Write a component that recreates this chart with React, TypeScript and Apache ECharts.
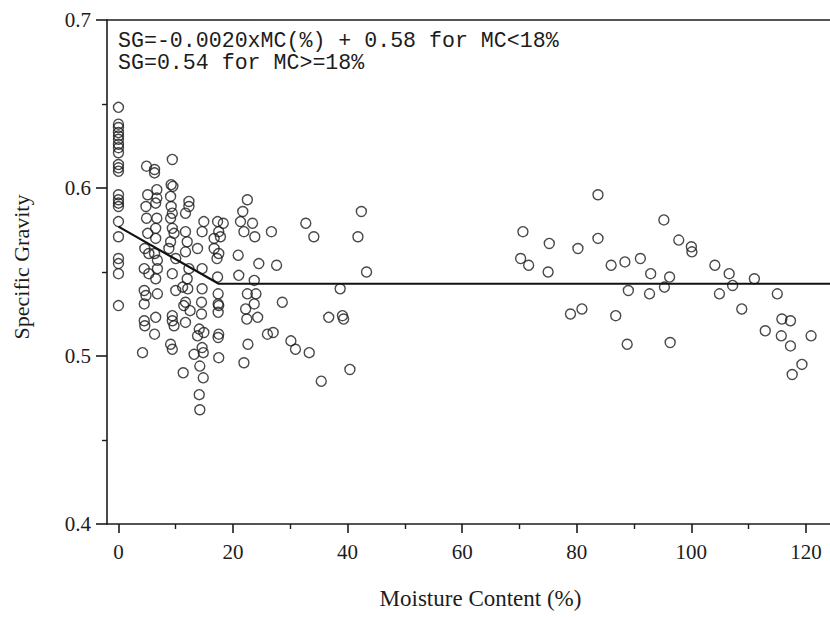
import React, { useEffect, useRef } from "react";
import * as echarts from "echarts";

// Axis ticks
const xTickValues = [0, 20, 40, 60, 80, 100, 120];
const xMinorTickValues = [10, 30, 50, 70, 90, 110];
const yTickValues = [0.4, 0.5, 0.6, 0.7];
const yMinorTickValues = [0.45, 0.55, 0.65];

// Observations: [moisture content %, specific gravity]
const greenMC0 = [
  [0, 0.648], [0, 0.638], [0, 0.636], [0, 0.633], [0, 0.631], [0, 0.629], [0, 0.626], [0, 0.624],
  [0, 0.621], [0, 0.614], [0, 0.612], [0, 0.61], [0, 0.596], [0, 0.593], [0, 0.591], [0, 0.589],
  [0, 0.58], [0, 0.571], [0, 0.558], [0, 0.555], [0, 0.549], [0, 0.53],
];
const mc4to7 = [
  [4.9, 0.613], [6.3, 0.611], [6.3, 0.609], [5.1, 0.596], [6.7, 0.599], [6.7, 0.594], [4.8, 0.589],
  [6.5, 0.591], [4.9, 0.582], [6.7, 0.582], [6.5, 0.576], [5.1, 0.573], [6.5, 0.57], [4.6, 0.564],
  [6.3, 0.561], [5.3, 0.561], [6.8, 0.557], [4.5, 0.552], [5.3, 0.549], [6.8, 0.552], [6.5, 0.546],
  [4.5, 0.539], [4.8, 0.536], [6.8, 0.537], [4.5, 0.531], [6.5, 0.523], [4.5, 0.521], [4.6, 0.518],
  [6.3, 0.513], [4.2, 0.502],
];
const mc8to10 = [
  [9.4, 0.617], [9.2, 0.602], [9.5, 0.601], [9.1, 0.595], [9.2, 0.589], [9.4, 0.585], [9.1, 0.582],
  [9.4, 0.576], [9.7, 0.573], [9.1, 0.568], [8.8, 0.564], [10.0, 0.558], [9.4, 0.549], [10.0, 0.539],
  [9.4, 0.524], [9.4, 0.521], [9.7, 0.518], [9.1, 0.507], [9.4, 0.504],
];
const mc11to13 = [
  [12.3, 0.592], [12.3, 0.589], [11.7, 0.585], [11.7, 0.574], [12.0, 0.568], [11.7, 0.562],
  [12.3, 0.552], [12.0, 0.546], [11.2, 0.541], [12.1, 0.54], [11.7, 0.532], [11.4, 0.53],
  [12.5, 0.527], [11.7, 0.52], [11.3, 0.49], [13.2, 0.501],
];
const mc14to15 = [
  [14.9, 0.58], [14.6, 0.574], [13.8, 0.564], [14.6, 0.552], [14.6, 0.54], [14.5, 0.532],
  [14.5, 0.525], [14.1, 0.516], [13.8, 0.512], [14.9, 0.514], [14.6, 0.505], [14.8, 0.502],
  [14.2, 0.494], [14.8, 0.487], [14.1, 0.477], [14.2, 0.468],
];
const mc16to18 = [
  [17.3, 0.58], [18.3, 0.579], [17.5, 0.574], [17.8, 0.571], [16.7, 0.57], [16.7, 0.564],
  [17.5, 0.561], [17.2, 0.558], [17.3, 0.547], [17.4, 0.537], [17.4, 0.531], [17.5, 0.53],
  [17.4, 0.526], [17.5, 0.513], [17.4, 0.511], [17.5, 0.499],
];
const mc20to25 = [
  [22.5, 0.593], [21.7, 0.586], [21.3, 0.58], [21.9, 0.574], [23.4, 0.579], [23.8, 0.571],
  [20.9, 0.56], [24.5, 0.555], [21.0, 0.548], [23.7, 0.545], [22.5, 0.537], [24.0, 0.537],
  [23.7, 0.531], [22.2, 0.528], [22.4, 0.522], [24.3, 0.523], [22.6, 0.507], [21.9, 0.496],
];
const mc25to44 = [
  [26.7, 0.574], [27.6, 0.554], [28.6, 0.532], [26.0, 0.513], [27.0, 0.514], [30.1, 0.509],
  [30.9, 0.504], [33.3, 0.502], [32.7, 0.579], [34.1, 0.571], [35.4, 0.485], [36.7, 0.523],
  [38.7, 0.54], [39.1, 0.524], [39.3, 0.522], [40.4, 0.492], [42.4, 0.586], [41.8, 0.571],
  [43.3, 0.55],
];
const mc70to121 = [
  [70.2, 0.558], [70.6, 0.574], [71.6, 0.554], [75.0, 0.55], [75.2, 0.567], [78.9, 0.525],
  [80.9, 0.528], [80.2, 0.564], [83.7, 0.596], [83.7, 0.57], [86.0, 0.554], [86.8, 0.524],
  [88.4, 0.556], [89.0, 0.539], [88.8, 0.507], [91.1, 0.558], [92.9, 0.549], [92.7, 0.537],
  [95.2, 0.581], [95.3, 0.541], [96.2, 0.547], [96.3, 0.508], [97.8, 0.569], [100.0, 0.565],
  [100.1, 0.562], [104.1, 0.554], [104.9, 0.537], [106.6, 0.549], [107.2, 0.542], [108.8, 0.528],
  [111.0, 0.546], [112.9, 0.515], [115.0, 0.537], [115.8, 0.522], [117.3, 0.521], [115.7, 0.512],
  [117.3, 0.506], [120.9, 0.512], [119.3, 0.495], [117.6, 0.489],
];

// Piecewise fit: SG = -0.0020 x MC + 0.58 (MC < 18), SG = 0.54 (MC >= 18)
const fitMC = [0, 17.5, 124.2];
const fitSG = [0.577, 0.543, 0.543];

const equationLines = [
  "SG=-0.0020xMC(%) + 0.58 for MC<18%",
  "SG=0.54 for MC>=18%",
];

const allPoints = [
  ...greenMC0, ...mc4to7, ...mc8to10, ...mc11to13, ...mc14to15,
  ...mc16to18, ...mc20to25, ...mc25to44, ...mc70to121,
];

const INK = "#1c1c1c";
const SERIF = "'Liberation Serif', 'Times New Roman', serif";
const MONO = "'Liberation Mono', 'Courier New', monospace";

export default function App() {
  const ref = useRef<HTMLDivElement>(null);
  useEffect(() => {
    if (!ref.current) return;
    const chart = echarts.init(ref.current, null, { renderer: "svg" });
    const xMin = -2;
    const xMax = 124.2;
    chart.setOption({
      animation: false,
      backgroundColor: "#ffffff",
      grid: { left: 107, top: 20, width: 723, height: 504, containLabel: false },
      xAxis: [
        {
          type: "value",
          min: xMin,
          max: xMax,
          position: "bottom",
          name: "Moisture Content (%)",
          nameLocation: "middle",
          nameGap: 63,
          nameTextStyle: { fontFamily: SERIF, fontSize: 23, color: INK, padding: [0, 0, 0, 24] },
          axisLine: { onZero: false, lineStyle: { color: INK, width: 1.6 } },
          axisTick: { show: true, customValues: xTickValues, length: 9, lineStyle: { color: INK, width: 1.6 } },
          axisLabel: {
            customValues: xTickValues,
            margin: 17,
            fontFamily: SERIF,
            fontSize: 21,
            color: INK,
          },
          splitLine: { show: false },
        },
        {
          type: "value",
          min: xMin,
          max: xMax,
          position: "bottom",
          axisLine: { show: false, onZero: false },
          axisTick: { show: true, customValues: xMinorTickValues, length: 5, lineStyle: { color: INK, width: 1.4 } },
          axisLabel: { show: false },
          splitLine: { show: false },
        },
        {
          type: "value",
          min: xMin,
          max: xMax,
          position: "top",
          axisLine: { show: true, onZero: false, lineStyle: { color: INK, width: 1.6 } },
          axisTick: { show: false },
          axisLabel: { show: false },
          splitLine: { show: false },
        },
      ],
      yAxis: [
        {
          type: "value",
          min: 0.4,
          max: 0.7,
          position: "left",
          name: "Specific Gravity",
          nameLocation: "middle",
          nameGap: 75,
          nameTextStyle: { fontFamily: SERIF, fontSize: 22, color: INK, padding: [0, 0, 0, 10] },
          axisLine: { show: true, onZero: false, lineStyle: { color: INK, width: 1.6 } },
          axisTick: { show: true, customValues: yTickValues, length: 11, lineStyle: { color: INK, width: 1.6 } },
          axisLabel: {
            customValues: yTickValues,
            margin: 16,
            fontFamily: SERIF,
            fontSize: 21,
            color: INK,
            formatter: (v: number) => v.toFixed(1),
          },
          splitLine: { show: false },
        },
        {
          type: "value",
          min: 0.4,
          max: 0.7,
          position: "left",
          axisLine: { show: false, onZero: false },
          axisTick: { show: true, customValues: yMinorTickValues, length: 5, lineStyle: { color: INK, width: 1.4 } },
          axisLabel: { show: false },
          splitLine: { show: false },
        },
      ],
      series: [
        {
          type: "scatter",
          xAxisIndex: 0,
          yAxisIndex: 0,
          data: allPoints,
          symbol: "circle",
          symbolSize: 10,
          itemStyle: { color: "rgba(0,0,0,0)", borderColor: INK, borderWidth: 1.4 },
          z: 3,
        },
        {
          type: "line",
          xAxisIndex: 0,
          yAxisIndex: 0,
          data: fitMC.map((x, i) => [x, fitSG[i]]),
          showSymbol: false,
          symbol: "none",
          lineStyle: { color: "#111", width: 2.2 },
          z: 4,
        },
      ],
      graphic: equationLines.map((line, i) => ({
        type: "text",
        left: 118,
        top: 30 + i * 22,
        style: {
          text: line,
          fontFamily: MONO,
          fontSize: 21.6,
          lineHeight: 21,
          fill: INK,
        },
        z: 10,
      })),
    });
    return () => chart.dispose();
  }, []);
  return (
    <div
      ref={ref}
      style={{ position: "fixed", left: 0, top: 0, width: 830, height: 617, background: "#fff" }}
    />
  );
}
